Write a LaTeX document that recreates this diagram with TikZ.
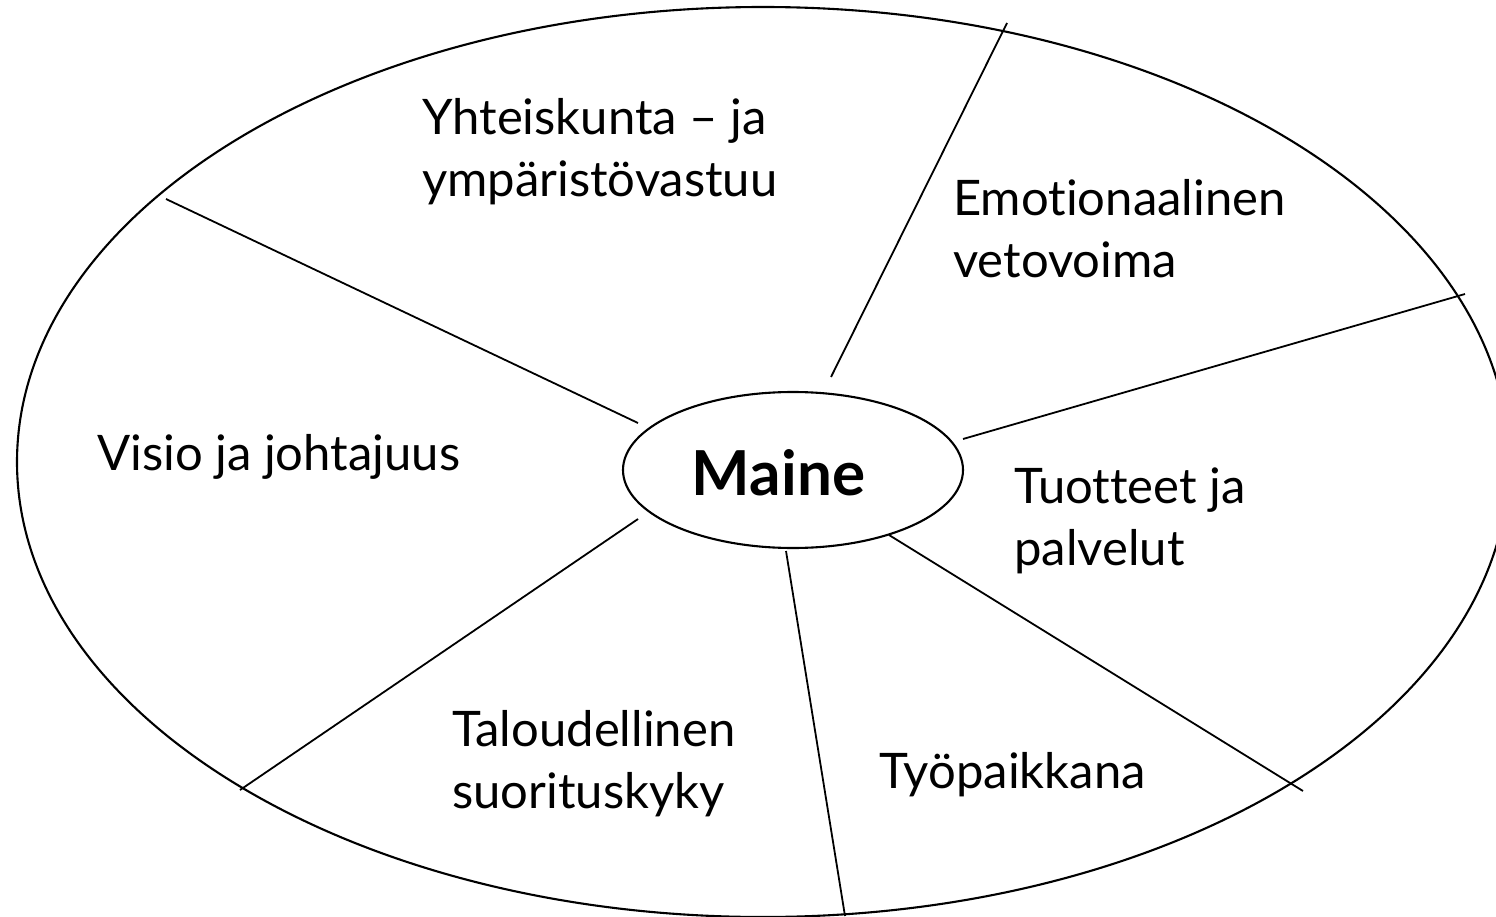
\documentclass[tikz,border=0pt]{standalone}
\usepackage{fontspec}
\setmainfont{Lato}[Ligatures=NoCommon]
\usetikzlibrary{shapes.geometric}
\tikzset{
  ring/.style={ellipse, draw=black, line width=2.1pt, inner sep=0pt},
  spoke/.style={draw=black, line width=1.8pt},
  lbl/.style={anchor=base west, inner sep=0pt, align=left, font=\fontsize{49}{62}\selectfont},
  title/.style={anchor=base, inner sep=0pt, font=\fontsize{62}{70}\selectfont\bfseries}
}
\begin{document}
\begin{tikzpicture}[x=1pt,y=-1pt]
\useasboundingbox (0,0) rectangle (1496,917);
\begin{scope}
\clip (0,0) rectangle (1496,917);
\node[ring, minimum width=1492pt, minimum height=910pt] (outer) at (763,462) {};
\node[ring, minimum width=340pt, minimum height=156pt] (ring) at (793,470) {};
\node[title] (maine) at (778.5,495) {Maine};

\coordinate (a1) at (831,377);  \coordinate (b1) at (1007,23);
\coordinate (a2) at (963,439);  \coordinate (b2) at (1465,294);
\coordinate (a3) at (889,535);  \coordinate (b3) at (1303,791);
\coordinate (a4) at (786,551);  \coordinate (b4) at (845,916);
\coordinate (a5) at (638,519);  \coordinate (b5) at (240,790);
\coordinate (a6) at (638,423);  \coordinate (b6) at (166,199);
\draw[spoke] (a1) -- (b1);
\draw[spoke] (a2) -- (b2);
\draw[spoke] (a3) -- (b3);
\draw[spoke] (a4) -- (b4);
\draw[spoke] (a5) -- (b5);
\draw[spoke] (a6) -- (b6);

\node[lbl] (t1) at (422,197) {Yhteiskunta – ja\\ympäristövastuu};
\node[lbl] (t2) at (953,277) {Emotionaalinen\\vetovoima};
\node[lbl] (t3) at (97,470) {Visio ja johtajuus};
\node[lbl] (t4) at (1014,565) {Tuotteet ja\\palvelut};
\node[lbl] (t5) at (452,808) {Taloudellinen\\suorituskyky};
\node[lbl] (t6) at (879,788) {Työpaikkana};
\end{scope}
\end{tikzpicture}
\end{document}
